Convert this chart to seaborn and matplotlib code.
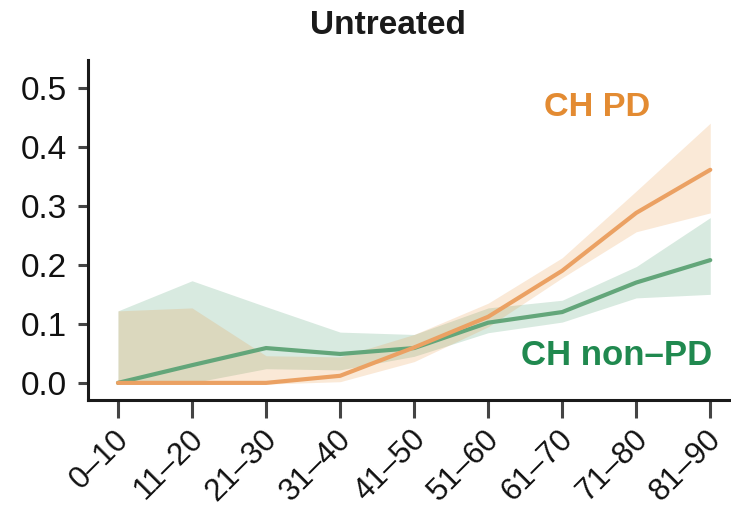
import matplotlib
matplotlib.use("Agg")
import matplotlib.pyplot as plt
import matplotlib.transforms as mtransforms
import seaborn as sns
import pandas as pd

age_groups = ['0–10', '11–20', '21–30', '31–40', '41–50', '51–60', '61–70', '71–80', '81–90']

pd_mean = [0.0, 0.0, 0.0, 0.012, 0.060, 0.112, 0.190, 0.288, 0.361]
pd_low = [-0.002, -0.002, -0.002, 0.002, 0.036, 0.095, 0.178, 0.256, 0.288]
pd_high = [0.122, 0.127, 0.046, 0.044, 0.082, 0.135, 0.212, 0.325, 0.440]

npd_mean = [0.0, 0.030, 0.059, 0.049, 0.059, 0.102, 0.120, 0.170, 0.208]
npd_low = [0.0, 0.0, 0.024, 0.022, 0.045, 0.085, 0.103, 0.144, 0.150]
npd_high = [0.122, 0.173, 0.129, 0.086, 0.082, 0.127, 0.140, 0.197, 0.280]

title = 'Untreated'
label_pd = 'CH PD'
label_npd = 'CH non–PD'

sns.set_theme(style='ticks')
plt.rcParams['font.family'] = ['Liberation Sans', 'DejaVu Sans']

orange_line = '#EBA163'
orange_fill = '#E8913A'
orange_text = '#E38B32'
green_line = '#63A67A'
green_fill = '#4FA072'
green_text = '#20894F'

df = pd.DataFrame({
    'age': list(range(len(age_groups))) * 2,
    'value': pd_mean + npd_mean,
    'group': [label_pd] * len(age_groups) + [label_npd] * len(age_groups),
})

fig = plt.figure(figsize=(7.31, 5.08), dpi=100)
ax = fig.add_axes([88 / 731, 108 / 508, 1 - 88 / 731, 340 / 508])

xs = list(range(len(age_groups)))
ax.fill_between(xs, npd_low, npd_high, color=green_fill, alpha=0.22, linewidth=0)
ax.fill_between(xs, pd_low, pd_high, color=orange_fill, alpha=0.2, linewidth=0)

sns.lineplot(data=df, x='age', y='value', hue='group',
             palette={label_pd: orange_line, label_npd: green_line},
             hue_order=[label_npd, label_pd],
             linewidth=3.0, legend=False, ax=ax)

ax.set_xlim(-0.405, 8.28)
ax.set_ylim(-0.029, 0.547)
ax.set_xticks(xs)
ax.set_xticklabels(age_groups, rotation=45, ha='right', rotation_mode='anchor')
ax.set_yticks([0.0, 0.1, 0.2, 0.3, 0.4, 0.5])
ax.set_yticklabels(['0.0', '0.1', '0.2', '0.3', '0.4', '0.5'])
ax.set_xlabel('')
ax.set_ylabel('')

for s in ['top', 'right']:
    ax.spines[s].set_visible(False)
for s in ['left', 'bottom']:
    ax.spines[s].set_linewidth(2.2)
    ax.spines[s].set_color('#1a1a1a')

ax.tick_params(axis='both', direction='out', width=2.2, color='#444444',
               labelsize=24, labelcolor='#111111')
ax.tick_params(axis='x', length=13, labelsize=22.5, pad=4.5)
ax.tick_params(axis='y', length=7, pad=8)

offset = mtransforms.ScaledTranslation(-4 / 100, 0, fig.dpi_scale_trans)
for lbl in ax.get_xticklabels():
    lbl.set_transform(lbl.get_transform() + offset)

ax.text(6.47, 0.466, label_pd, color=orange_text, fontsize=24.7, fontweight='bold',
        ha='center', va='center')
ax.text(8.03, 0.047, label_npd, color=green_text, fontsize=25, fontweight='bold',
        ha='right', va='center')

fig.text(388 / 731, 1 - 25 / 508, title, fontsize=24, fontweight='bold',
         ha='center', va='center', color='#1a1a1a')

fig.savefig('out.png', dpi=100)
